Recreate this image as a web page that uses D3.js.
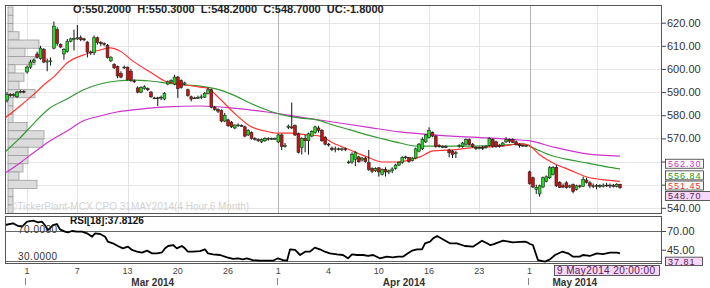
<!DOCTYPE html>
<html><head><meta charset="utf-8">
<script src="https://cdn.jsdelivr.net/npm/d3@7/dist/d3.min.js"></script>
<style>
body{margin:0;background:#fff;}
svg{display:block;font-family:"Liberation Sans",Arial,sans-serif;}
</style></head><body>
<svg id="c" width="710" height="288"></svg>
<script>
// ---------- DATA ----------
const opens=[586.5,589,588.5,588,590,590.3,598.7,600.8,603,606.5,604.5,608.5,603,603.5,609,617,610.5,606.5,607.5,612,613,613,613.5,613,611.6,607.3,607,613.5,611.5,611,610.3,603.5,602,601,598,600.5,600.8,599,594.8,591.8,590,591.5,591.5,590,587.5,587.5,587.5,587,593.5,594.4,593.5,596.5,595,593.5,591,588,587.5,587.5,587.7,587.8,589.5,591,583.5,582.5,582,577.5,578,577,574.5,575.5,575.5,575,571.5,572.5,570,569.5,568.5,569,570,569.8,569.9,568.5,571.5,566.5,574.8,575,575.5,572,566,570,569,571,572.5,574.5,573.5,570.5,567.5,565.8,565.5,565.5,565.2,565.5,559.5,559.8,561,562,560.7,561.5,559.5,557,556,557.3,554.5,556.5,555.5,556,557,558.5,559.5,561.8,561.8,560.5,561.5,564.5,565.5,568.5,570.5,572.5,571,567,566.3,566.5,565,564.5,563.5,566.5,566.5,567.5,569.5,567.5,566,565.8,566,566,567,569.5,568.5,567,567,568.5,569.5,569.5,568.5,567.5,567,566.8,555.5,553,548,546,549,551.5,553,554.5,557.5,551,549.5,550.8,549,550,548,549.5,549.3,552,550.8,549.5,549.3,549.6,549.3,549.8,549.5,549.8,549.3,550.2];
const highs=[590,589.5,589.5,590.5,590.8,590.8,601.5,604,604.5,607.5,610,609,604.5,605,620.5,618,611,609,613,613.5,617,619,614.5,613.5,612,608,614.5,614,612,611.5,610.8,605.5,602.5,601.5,599,601.5,601,600,595.5,592.5,592.5,593,592,590.5,588,588,588.5,590,595,595.5,597.5,597,595.5,594.5,591.5,588.5,588,588.5,589,590,592,591.5,584,583,582.5,581,578.5,577.5,576,576.5,576,575.5,574,573,570.5,570,570,570.5,570.5,570.3,570.4,572,572,568,576,585.5,576,572.5,570.5,571.5,572.5,573.5,575.5,575.5,574,571,568,566.5,566.5,566,566,566,560.5,564,564.5,562.5,562,562,565,557.5,557.5,557.5,557,557.5,556.5,557.5,559,560,562.3,562.5,562,562,566,568,570.5,572,574.8,573,571.5,567.5,567,567,565.5,565,564.5,567.5,568.5,570,570,568,566.5,566.5,566.8,567,570.5,570,569,567.5,568.5,570.5,570,570,569,568,567.3,567.2,556,553.5,550,550,553.5,554,558,558,558.5,551.5,550.5,551.5,550,550.5,550,550,553.5,553,551.5,550.5,550.3,550.2,550.5,550.8,550.5,550.3,550.6,550.3];
const lows=[585.5,588,588,587.5,589.5,589.5,598,600,602.5,604.5,604,602.5,599,601.5,608.5,610,609,604,607,611.5,608,612.5,612,612,605,606,606,610.5,610,610,604.5,603,600,596,596,600,595,594.5,594,589.5,589.5,591,590.5,587.5,587,584,586.5,586.5,593,594,593,587.5,591.5,593,588,586,587,587,587,587.5,589,583,582,581,577,577,575,574.5,574,575,575,570.5,571,569.5,569,568.5,568,568.5,569,569.3,569.4,568,565,566,574,574,571,563.5,563,564,563,570.5,572,572.5,568.5,567,566.5,564.5,564,564.8,564.5,564.5,559,559,558,559.5,560,559.5,556,555,555.5,553.5,554,553.5,554.5,555,556.5,558,559,561,559.5,560,561,564,565,568,570,570.5,566,566,565.8,565.8,561.8,561.5,561.5,566,566,567,567,566,565,565.3,565,565.5,566.5,566,566,566,566.5,568,568,568,567,566,566.5,566.3,550,548.5,546,544.8,548.5,551,552.5,554,549,548.5,548.5,548.3,548.5,546.3,547.5,548.5,549,550.5,548.5,548.5,548,548.6,548.8,549,548.5,548.8,548.8,548.2];
const closes=[589,588.5,589,590,590.3,590,600.8,603,603.8,605,609,603,603.5,603.5,618.5,611,609.5,608.5,612,613,613.2,613.5,612.8,612.6,607.3,607,613.5,611.5,611,610.8,605,605.1,600.5,597,596.5,600.8,595.5,595,594.5,590,592,592.3,591,588,587.5,587.3,587.8,589.5,594.4,595,596.5,591.5,592,594,588.5,587,587.5,587.7,588,589.5,591,583.5,582.5,581.8,577.5,580,575.5,575,575.8,575.8,575.3,571,573.5,570,569.8,569,569.5,570,569.8,569.9,570,571.5,566.5,567,575.3,574.5,571.5,564,570,569,572,573,575,573.5,569,567.5,567.3,565.2,565.5,565.3,565.5,565.2,559.8,563,563.8,559.9,561.5,560,556.5,555.8,557,555.5,556.5,555.5,556,556.8,558.5,559.6,561.8,562,560,561.5,565.5,567.5,569.5,571.5,573.5,571,566.5,566.5,566.5,566.3,563.8,563,563.8,567,568,569.5,567.3,566.5,565.8,566,565.8,566.5,570,566.5,566.5,566.8,568,569.5,568.8,568.3,567.2,566.8,566.8,566.9,550.5,549,548.8,549.5,553,553.4,557.3,557.5,549.5,548.8,549,548.8,549.5,547,549.5,549.3,552.3,551,549.5,549.3,549.6,549.3,549.8,549.5,549.8,549.3,550.2,548.7];

// Moving averages (sample points: bar position, value)
const maFastIdx=[-0.6,3.9,7.8,11.3,14.3,17.9,22.7,27.8,30.7,33.7,37.6,42.7,47.8,51.6,57.6,59.7,63.6,67.5,72.5,77,80.6,84.5,89.6,93.4,97.3,102.4,107.5,112.2,116.4,120.3,123.3,127.2,133.1,138.2,143.3,148.1,153.1,155.5,159.1,163,168.1,173.1,179.1,183];
const maFastVal=[578.8,584,588.8,593.5,597,602.6,606,608.2,609.1,607.8,603.4,598.7,594.4,593.5,592.2,591.8,587,581.4,575.4,573.2,572.3,572.3,571.5,571,568,565,562,559.8,559.8,560.7,562,564.6,565,565.9,566.3,566.7,567.6,567.2,562.8,559.4,556.3,553.3,552,551.45];
const maMidIdx=[-0.6,3.9,7.8,12.8,17.9,22.7,27.8,32.8,37.6,42.7,47.8,52.5,57.6,62.7,67.5,72.5,77.6,82.4,87.5,92.5,97.3,102.4,107.5,112.2,117.3,122.4,127.2,138.2,148.1,154,157,163,168.1,173.1,179.1,183];
const maMidVal=[564.1,570.2,576.2,583.1,587,590.9,593.5,594.8,595.2,594.8,593.9,593.1,592.6,591.3,588.8,585.3,582.3,580.1,578.8,578,575.8,573.7,571.5,569.8,568,566.7,566.7,566.7,567.1,567.6,565.9,562.4,560.7,559.4,557.7,556.84];
const maSlowIdx=[-0.6,3.9,7.8,12.8,17.9,22.7,27.8,32.8,37.6,42.7,47.8,57.6,67.5,77.6,87.5,97.3,107.5,117.3,127.2,143.3,153.1,156.1,163,173.1,183];
const maSlowVal=[555,559.4,563.7,568.9,573.2,577.5,579.7,581.4,582.3,583.1,583.6,584,583.1,581.4,579.2,577.1,574.9,572.8,571.5,570.2,569.3,568.9,566.3,563.3,562.3];

// RSI(18) sample points
const rsiIdx=[-0.6,1.8,3.3,4.5,6,7.8,9.3,10.4,11.3,12.2,12.8,13.7,14.9,15.8,17.3,18.2,19.4,20.9,22.4,23.9,25.4,26.3,27.8,29.3,30.1,31.6,33.1,34.6,36.1,37.3,38.8,40.3,41.8,43.3,44.8,46.3,47.2,48.1,49.6,50.7,52.2,53.1,54,55.5,57.6,59.1,60,61.5,63.6,65.7,67.5,69,70.4,71.6,73.4,75.5,77.6,79.4,80.9,82.4,83.6,84.5,86,87.5,89,90.4,91.9,93.4,94.9,96.4,98.5,100.3,101.8,103,104.5,106.3,107.8,109.3,111.3,113.4,115.2,116.7,118.2,119.7,120.9,122.4,123.9,124.8,126.3,127.2,128.4,130.1,132.2,134.3,136.7,139.1,141.8,143.3,144.2,145.1,148.1,151,154.6,155.5,156.1,157,158.5,160.6,162.1,163.6,165.7,167.5,169,171,171.9,174,176.1,177.9,180,182.1,183];
const rsiVal=[78,80.3,76.7,75.8,82.4,83.8,81.5,82.4,78,71.3,73.5,78,79.3,72.2,69.1,68.2,70,69.1,69.1,66.9,62.4,66.9,66,62.4,55.8,53.6,50,46.9,49.1,44.7,42.4,41.1,43.8,40.2,40.2,41.6,46.9,50,51.3,46.9,50,46.9,42.4,42.4,43.3,45.6,40.2,38.9,38,34.9,32.7,33.6,32.2,33.6,31.3,30.4,30.4,30.4,33.6,31.3,30.4,45.6,44.7,38,42.4,42.4,47.8,45.6,42.4,40.2,38.9,38,33.6,38.9,38,38,36.7,38,33.6,35.8,34.9,35.8,35.8,40.2,43.8,45.6,45.6,53.6,55.8,60.2,63.3,58.9,53.6,53.6,50,49.1,57.1,53.6,51.3,52.2,57.1,54.9,55.8,54.5,52.7,51.3,31.3,29.1,32.2,38,42.4,40.2,35.8,35.8,38,36.7,40.2,39.3,41.1,41.1,40.2,41.6,37.81];

// Price-volume profile (bin edges top→bottom, volumes)
const profEdges=[626.78,623.22,619.65,616.09,612.52,608.96,605.39,601.83,598.26,594.70,591.13,587.57,584.00,580.44,576.87,573.31,569.74,566.18,562.61,559.05,555.48,551.92,548.35,544.78,541.22,537.65];
const profVol=[5,5,5,11,31,17,27,7,16,11,27,5,5,5,19,36,35,20,20,15,11,29,5,5,5];

// Axis ticks
const priceTicks=[540,550,560,570,580,590,600,610,620];
const priceLabelTicks=[540,570,580,590,600,610,620];
const rsiLevels=[70,30];
const rsiLabelTicks=[70,45];
const dayTickIdx=[6,21,36,51,66,81,96,111,126,141,156,176];
const dayTickLabels=["1","7","13","20","26","1","4","10","16","23","1",""];
const monthStartIdx=[6,81,156];
const monthLabels=["Mar 2014","Apr 2014","May 2014"];
const lastValues={slow:562.30, mid:556.84, fast:551.45, close:548.70, rsi:37.81};

// ---------- DRAW ----------
const svg=d3.select("#c");
const L=5,R=662,T=5,B=214, RT=216, RB=264;
const n=closes.length;
const x=d3.scaleLinear().domain([0,n-1]).range([7,620]);
const y=d3.scaleLinear().domain([537.33,627.65]).range([B,T]);
const yr=d3.scaleLinear().domain([26,90]).range([RB,RT]);
const vx=d3.scaleLinear().domain([0,36]).range([8,44]);

svg.append("defs").append("clipPath").attr("id","clipM")
  .append("rect").attr("x",L).attr("y",T).attr("width",R-L).attr("height",B-T);
svg.append("defs").append("clipPath").attr("id","clipR")
  .append("rect").attr("x",L).attr("y",RT).attr("width",R-L).attr("height",RB-RT);

const gm=svg.append("g").attr("clip-path","url(#clipM)");
gm.selectAll("line.hg").data(priceTicks).join("line")
  .attr("x1",L).attr("x2",R).attr("y1",d=>Math.round(y(d))+0.5).attr("y2",d=>Math.round(y(d))+0.5)
  .attr("stroke","#e6e6e6");
gm.selectAll("line.vg").data(dayTickIdx).join("line")
  .attr("x1",d=>Math.round(x(d))+0.5).attr("x2",d=>Math.round(x(d))+0.5).attr("y1",T).attr("y2",B)
  .attr("stroke",d=> (d===monthStartIdx[1]||d===monthStartIdx[2])?"#b4b4b4":"#e4e4e4");

// volume profile
const bins=profVol.map((v,i)=>({top:profEdges[i],bot:profEdges[i+1],v}));
gm.selectAll("rect.pf").data(bins).join("rect")
  .attr("x",vx(0)).attr("y",d=>y(d.top)).attr("width",d=>vx(d.v)-vx(0)).attr("height",d=>y(d.bot)-y(d.top))
  .attr("fill","#dcdcdc").attr("stroke","#9c9c9c").attr("stroke-width",0.8);

// watermark
svg.append("text").attr("x",10).attr("y",210).attr("font-size",10).attr("fill","#d2d2d2")
  .text("©TickerPlant-MCX CPO 31MAY2014(4 Hour,6 Month)");

// moving averages
function maLine(idx,val,color){
  const pts=idx.map((d,i)=>[x(d),y(val[i])]);
  gm.append("path").attr("d",d3.line().curve(d3.curveMonotoneX)(pts))
    .attr("fill","none").attr("stroke",color).attr("stroke-width",1.2);
}
maLine(maSlowIdx,maSlowVal,"#cc33cc");
maLine(maMidIdx,maMidVal,"#339933");
maLine(maFastIdx,maFastVal,"#ff3333");

// candles
const bars=closes.map((c,i)=>({i,o:opens[i],h:highs[i],l:lows[i],c}));
const cg=gm.selectAll("g.cd").data(bars).join("g");
cg.append("line").attr("x1",d=>x(d.i)).attr("x2",d=>x(d.i)).attr("y1",d=>y(d.h)).attr("y2",d=>y(d.l))
  .attr("stroke","#111").attr("stroke-width",1);
cg.append("rect").attr("x",d=>x(d.i)-1.4).attr("width",2.8)
  .attr("y",d=>y(Math.max(d.o,d.c))).attr("height",d=>Math.max(0.8,Math.abs(y(d.o)-y(d.c))))
  .attr("fill",d=>d.c>=d.o?"#22dd22":"#cc1111").attr("stroke","#222").attr("stroke-width",0.6);

// main panel border
svg.append("rect").attr("x",L+0.5).attr("y",T+0.5).attr("width",R-L-1).attr("height",B-T-1)
  .attr("fill","none").attr("stroke","#555");

// header
svg.append("text").attr("x",73).attr("y",13).attr("font-size",11).attr("font-weight","bold").attr("fill","#222")
  .attr("xml:space","preserve")
  .text("O:"+opens[n-1].toFixed(4)+"  H:"+highs[n-1].toFixed(4)+"  L:"+lows[n-1].toFixed(4)+"  C:"+closes[n-1].toFixed(4)+"  UC:-1.8000");

// price axis
const pa=svg.append("g").attr("transform",`translate(${R},0)`)
  .call(d3.axisRight(y).tickValues(priceTicks).tickSize(4)
    .tickFormat(d=>priceLabelTicks.includes(d)?d3.format(".2f")(d):""));
pa.select(".domain").remove();
pa.selectAll("line").attr("stroke","#444");
pa.selectAll("text").attr("font-size",11).attr("fill","#333").attr("x",5).attr("font-family","Liberation Sans, Arial, sans-serif");

// value boxes
function vbox(val,yy,color,bg,w){
  const g=svg.append("g").attr("transform",`translate(665,${yy})`);
  g.append("rect").attr("x",0.5).attr("y",0.5).attr("width",w).attr("height",9).attr("fill",bg).attr("stroke","#333").attr("stroke-width",0.8);
  g.append("text").attr("x",3).attr("y",8.3).attr("font-size",9).attr("fill",color).attr("letter-spacing",1).text(val.toFixed(2));
}
vbox(lastValues.slow,y(lastValues.slow)+2.5,"#cc33cc","#fff",38);
vbox(lastValues.mid,y(lastValues.mid)+1.5,"#229922","#fff",38);
vbox(lastValues.fast,y(lastValues.fast)-0.8,"#ee3333","#fff",38);
vbox(lastValues.close,y(lastValues.close)+3.4,"#552255","#f7d7f7",45);

// RSI panel
const gr=svg.append("g").attr("clip-path","url(#clipR)");
gr.selectAll("line.rl").data(rsiLevels).join("line")
  .attr("x1",L).attr("x2",R).attr("y1",d=>Math.round(yr(d))+0.5).attr("y2",d=>Math.round(yr(d))+0.5)
  .attr("stroke","#666").attr("stroke-width",1);
svg.append("text").attr("x",18).attr("y",yr(70)+2).attr("font-size",10).attr("fill","#333").attr("letter-spacing",0.5).text("70.0000");
svg.append("text").attr("x",18).attr("y",yr(30)-1).attr("font-size",10).attr("fill","#333").attr("letter-spacing",0.5).text("30.0000");
gr.append("path").attr("d",d3.line().curve(d3.curveLinear)(rsiIdx.map((d,i)=>[x(d),yr(rsiVal[i])])))
  .attr("fill","none").attr("stroke","#000").attr("stroke-width",1.8).attr("stroke-linejoin","round");
svg.append("text").attr("x",70).attr("y",223.5).attr("font-size",10).attr("font-weight","bold").attr("fill","#111")
  .text("RSI[18]:37.8126");
svg.append("rect").attr("x",L+0.5).attr("y",RT+0.5).attr("width",R-L-1).attr("height",RB-RT-1)
  .attr("fill","none").attr("stroke","#555");
const ra=svg.append("g").attr("transform",`translate(${R},0)`)
  .call(d3.axisRight(yr).tickValues(rsiLabelTicks).tickSize(4).tickFormat(d3.format(".2f")));
ra.select(".domain").remove();
ra.selectAll("line").attr("stroke","#444");
ra.selectAll("text").attr("font-size",11).attr("fill","#333").attr("x",5).attr("font-family","Liberation Sans, Arial, sans-serif");
{
  const g=svg.append("g").attr("transform",`translate(665,${yr(lastValues.rsi)+1.5})`);
  g.append("rect").attr("x",0.5).attr("y",0.5).attr("width",37).attr("height",8.5).attr("fill","#f7d7f7").attr("stroke","#333").attr("stroke-width",0.8);
  g.append("text").attr("x",3).attr("y",8).attr("font-size",9).attr("fill","#552255").attr("letter-spacing",1).text(lastValues.rsi.toFixed(2));
}

// x axis labels
svg.selectAll("text.dl").data(dayTickIdx).join("text")
  .attr("x",d=>x(d)).attr("y",273.5).attr("text-anchor","middle").attr("font-size",9).attr("fill","#444")
  .text((d,i)=>dayTickLabels[i]);
svg.selectAll("line.mt").data(monthStartIdx).join("line")
  .attr("x1",d=>Math.round(x(d-0.5))+0.5).attr("x2",d=>Math.round(x(d-0.5))+0.5).attr("y1",278).attr("y2",285)
  .attr("stroke","#888");
const monthEnds=monthStartIdx.slice(1).concat([n-1]);
svg.selectAll("text.ml").data(monthStartIdx).join("text")
  .attr("x",(d,i)=>x((d+monthEnds[i])/2)).attr("y",285.5).attr("text-anchor","middle")
  .attr("font-size",10).attr("font-weight","bold").attr("fill","#333").text((d,i)=>monthLabels[i]);

// crosshair date box
{
  const g=svg.append("g").attr("transform","translate(554,265)");
  g.append("rect").attr("x",0.5).attr("y",0.5).attr("width",105).attr("height",10).attr("fill","#f7d7f7").attr("stroke","#333").attr("stroke-width",0.8);
  g.append("text").attr("x",3).attr("y",9).attr("font-size",10).attr("fill","#552255").attr("letter-spacing",0.4).text("9 May2014 20:00:00");
}
</script>
</body></html>
